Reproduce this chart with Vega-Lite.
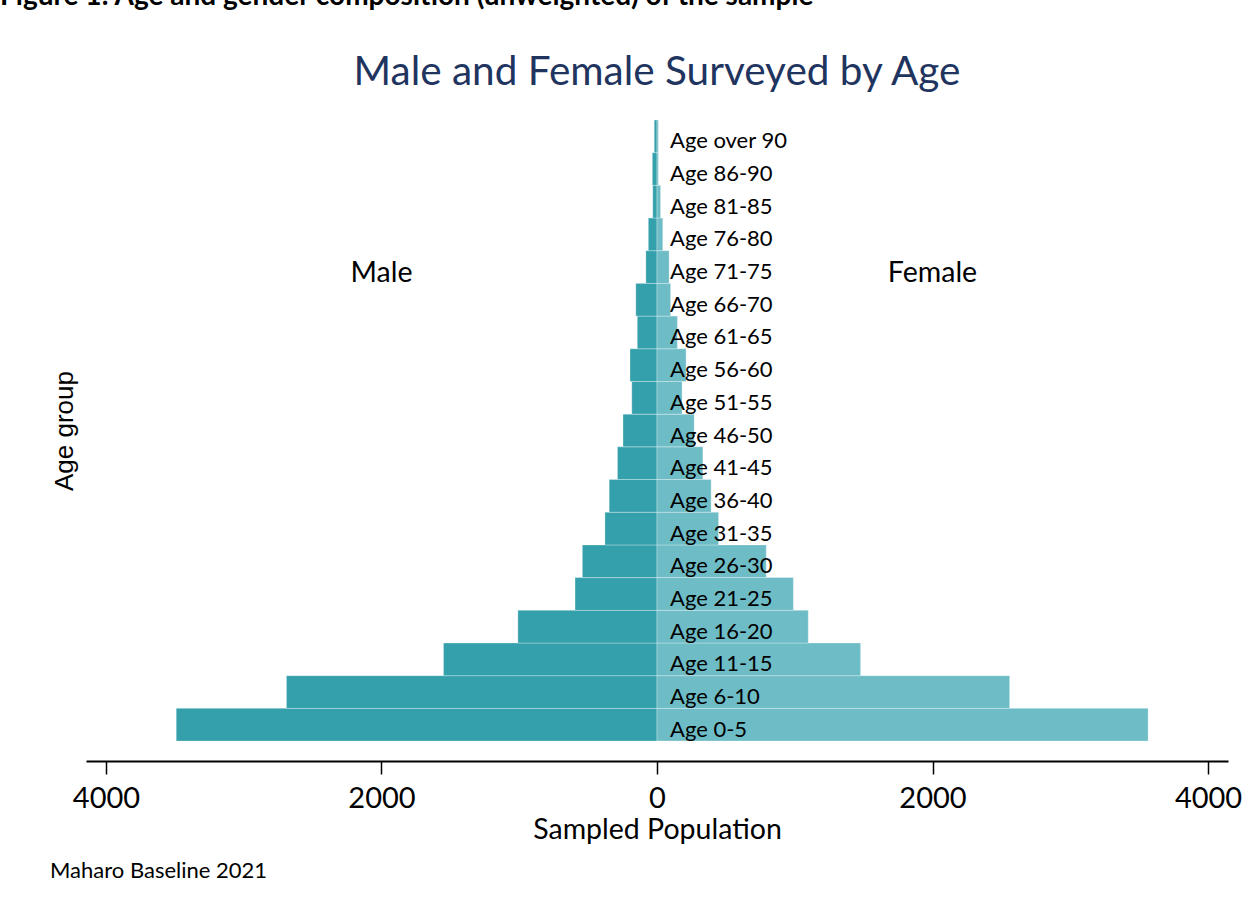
{
  "$schema": "https://vega.github.io/schema/vega-lite/v6.json",
  "background": "white",
  "padding": {"left": 0, "top": -18, "right": 5, "bottom": 5},
  "title": {
    "text": "Figure 1: Age and gender composition (unweighted) of the sample",
    "anchor": "start",
    "frame": "bounds",
    "dx": -50,
    "offset": 42,
    "font": "Lato",
    "fontSize": 28,
    "fontWeight": "bold",
    "color": "#000000"
  },
  "vconcat": [
    {
      "title": {
        "text": "Maharo Baseline 2021",
        "orient": "bottom",
        "anchor": "start",
        "frame": "bounds",
        "dx": -1,
        "offset": 17,
        "font": "Lato",
        "fontSize": 22,
        "fontWeight": "normal",
        "color": "#000000"
      },
      "vconcat": [
        {
          "title": {
            "text": "Male and Female Surveyed by Age",
            "anchor": "middle",
            "baseline": "bottom",
            "offset": -34,
            "font": "Lato",
            "fontSize": 40.5,
            "fontWeight": "normal",
            "color": "#1F3560"
          },
          "width": 1142,
          "height": 661,
          "data": {
            "values": [
              {"age": "Age 0-5", "sex": "Male", "count": 3490},
              {"age": "Age 6-10", "sex": "Male", "count": 2690},
              {"age": "Age 11-15", "sex": "Male", "count": 1550},
              {"age": "Age 16-20", "sex": "Male", "count": 1010},
              {"age": "Age 21-25", "sex": "Male", "count": 595},
              {"age": "Age 26-30", "sex": "Male", "count": 542},
              {"age": "Age 31-35", "sex": "Male", "count": 378},
              {"age": "Age 36-40", "sex": "Male", "count": 347},
              {"age": "Age 41-45", "sex": "Male", "count": 287},
              {"age": "Age 46-50", "sex": "Male", "count": 247},
              {"age": "Age 51-55", "sex": "Male", "count": 183},
              {"age": "Age 56-60", "sex": "Male", "count": 196},
              {"age": "Age 61-65", "sex": "Male", "count": 143},
              {"age": "Age 66-70", "sex": "Male", "count": 154},
              {"age": "Age 71-75", "sex": "Male", "count": 81},
              {"age": "Age 76-80", "sex": "Male", "count": 63},
              {"age": "Age 81-85", "sex": "Male", "count": 31},
              {"age": "Age 86-90", "sex": "Male", "count": 34},
              {"age": "Age over 90", "sex": "Male", "count": 20},
              {"age": "Age 0-5", "sex": "Female", "count": 3565},
              {"age": "Age 6-10", "sex": "Female", "count": 2560},
              {"age": "Age 11-15", "sex": "Female", "count": 1478},
              {"age": "Age 16-20", "sex": "Female", "count": 1098},
              {"age": "Age 21-25", "sex": "Female", "count": 990},
              {"age": "Age 26-30", "sex": "Female", "count": 793},
              {"age": "Age 31-35", "sex": "Female", "count": 447},
              {"age": "Age 36-40", "sex": "Female", "count": 393},
              {"age": "Age 41-45", "sex": "Female", "count": 333},
              {"age": "Age 46-50", "sex": "Female", "count": 270},
              {"age": "Age 51-55", "sex": "Female", "count": 182},
              {"age": "Age 56-60", "sex": "Female", "count": 211},
              {"age": "Age 61-65", "sex": "Female", "count": 148},
              {"age": "Age 66-70", "sex": "Female", "count": 99},
              {"age": "Age 71-75", "sex": "Female", "count": 88},
              {"age": "Age 76-80", "sex": "Female", "count": 42},
              {"age": "Age 81-85", "sex": "Female", "count": 26},
              {"age": "Age 86-90", "sex": "Female", "count": 10},
              {"age": "Age over 90", "sex": "Female", "count": 10}
            ]
          },
          "encoding": {
            "y": {
              "field": "age",
              "type": "nominal",
              "scale": {
                "domain": ["Age over 90", "Age 86-90", "Age 81-85", "Age 76-80", "Age 71-75", "Age 66-70", "Age 61-65", "Age 56-60", "Age 51-55", "Age 46-50", "Age 41-45", "Age 36-40", "Age 31-35", "Age 26-30", "Age 21-25", "Age 16-20", "Age 11-15", "Age 6-10", "Age 0-5"],
                "paddingInner": 0,
                "paddingOuter": 0.61
              },
              "axis": {
                "title": "Age group",
                "labels": false,
                "ticks": false,
                "domain": false,
                "grid": false,
                "titleFont": "Liberation Sans",
                "titleFontSize": 26,
                "titleFontWeight": "normal",
                "titleColor": "#000000",
                "titlePadding": 9
              }
            }
          },
          "layer": [
            {
              "transform": [{"filter": "datum.sex === 'Male'"}],
              "mark": {"type": "bar", "color": "#34A0AC", "stroke": "#ffffff", "strokeWidth": 0.6, "strokeOpacity": 0.5},
              "encoding": {
                "x": {
                  "field": "count",
                  "type": "quantitative",
                  "scale": {"domain": [-4145, 4145], "reverse": true, "nice": false},
                  "axis": null
                }
              }
            },
            {
              "transform": [{"filter": "datum.sex === 'Female'"}],
              "mark": {"type": "bar", "color": "#6EBCC6", "stroke": "#ffffff", "strokeWidth": 0.6, "strokeOpacity": 0.5},
              "encoding": {
                "x": {
                  "field": "count",
                  "type": "quantitative",
                  "scale": {"domain": [-4145, 4145], "nice": false},
                  "axis": {
                    "title": "Sampled Population",
                    "values": [-4000, -2000, 0, 2000, 4000],
                    "labelExpr": "format(abs(datum.value), 'd')",
                    "labelFlush": false,
                    "grid": false,
                    "domainColor": "#000000",
                    "domainWidth": 2,
                    "tickColor": "#000000",
                    "tickWidth": 1.5,
                    "tickSize": 13,
                    "labelFont": "Lato",
                    "labelFontSize": 29,
                    "labelColor": "#000000",
                    "labelPadding": 10,
                    "titleFont": "Lato",
                    "titleFontSize": 28.5,
                    "titleFontWeight": "normal",
                    "titleColor": "#000000",
                    "titlePadding": 2
                  }
                }
              }
            },
            {
              "transform": [{"filter": "datum.sex === 'Female'"}],
              "mark": {"type": "text", "align": "left", "baseline": "middle", "dx": 13, "dy": 5, "font": "Lato", "fontSize": 22, "color": "#000000"},
              "encoding": {
                "x": {"datum": 0, "type": "quantitative", "scale": {"domain": [-4145, 4145], "nice": false}, "axis": null},
                "text": {"field": "age"}
              }
            },
            {
              "data": {"values": [{"label": "Male"}]},
              "mark": {"type": "text", "align": "center", "baseline": "middle", "dy": 6, "font": "Lato", "fontSize": 28.5, "color": "#000000"},
              "encoding": {
                "x": {"datum": -2000, "type": "quantitative", "scale": {"domain": [-4145, 4145], "nice": false}, "axis": null},
                "y": {"datum": "Age 71-75", "type": "nominal"},
                "text": {"field": "label"}
              }
            },
            {
              "data": {"values": [{"label": "Female"}]},
              "mark": {"type": "text", "align": "center", "baseline": "middle", "dy": 6, "font": "Lato", "fontSize": 28.5, "color": "#000000"},
              "encoding": {
                "x": {"datum": 2000, "type": "quantitative", "scale": {"domain": [-4145, 4145], "nice": false}, "axis": null},
                "y": {"datum": "Age 71-75", "type": "nominal"},
                "text": {"field": "label"}
              }
            }
          ],
          "resolve": {"scale": {"x": "independent"}, "axis": {"x": "independent"}}
        }
      ]
    }
  ],
  "config": {
    "view": {"stroke": null},
    "concat": {"spacing": 0}
  }
}
